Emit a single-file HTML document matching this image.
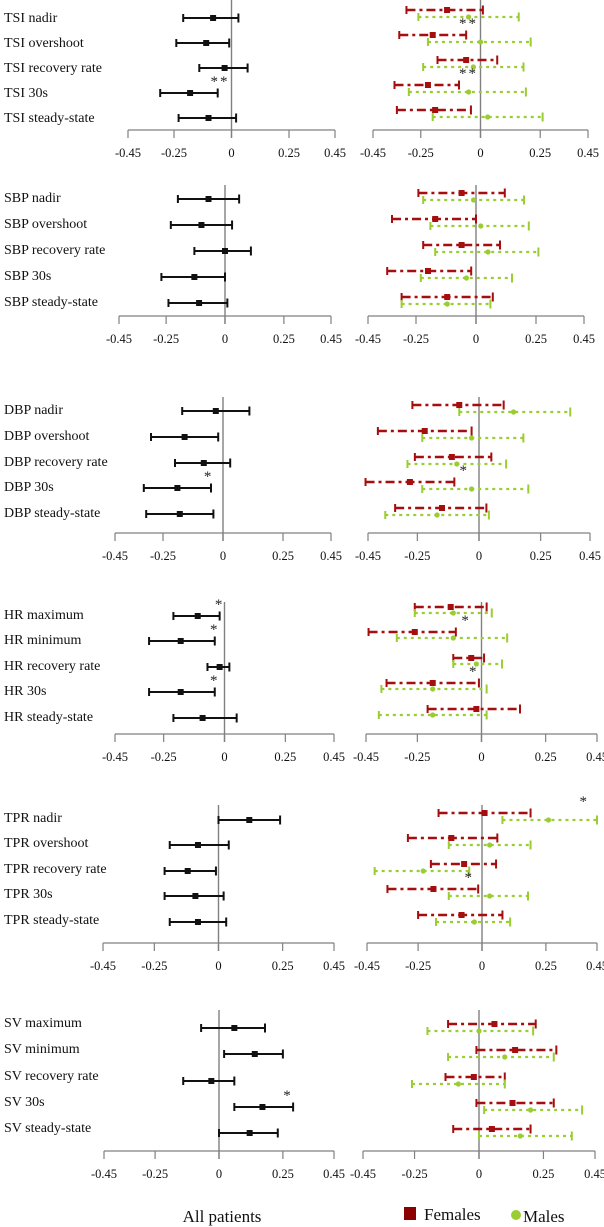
<!DOCTYPE html>
<html><head><meta charset="utf-8">
<style>
html,body{margin:0;padding:0;background:#fff;}
svg{display:block;font-family:"Liberation Serif",serif;}
</style></head>
<body>
<svg id="chart" width="604" height="1227" viewBox="0 0 604 1227" xmlns="http://www.w3.org/2000/svg"></svg>
<script>
// ---- data ----
const panelNames = ["TSI","SBP","DBP","HR","TPR","SV"];
const rowLabels = [
 ["TSI nadir","TSI overshoot","TSI recovery rate","TSI 30s","TSI steady-state"],
 ["SBP nadir","SBP overshoot","SBP recovery rate","SBP 30s","SBP steady-state"],
 ["DBP nadir","DBP overshoot","DBP recovery rate","DBP 30s","DBP steady-state"],
 ["HR maximum","HR minimum","HR recovery rate","HR 30s","HR steady-state"],
 ["TPR nadir","TPR overshoot","TPR recovery rate","TPR 30s","TPR steady-state"],
 ["SV maximum","SV minimum","SV recovery rate","SV 30s","SV steady-state"]
];
const tickValues = [-0.45,-0.25,0,0.25,0.45];
const tickLabels = ["-0.45","-0.25","0","0.25","0.45"];
// All patients: estimate, lower, upper
const allEst = [[-0.08,-0.11,-0.03,-0.18,-0.10],[-0.07,-0.10,0,-0.13,-0.11],[-0.03,-0.16,-0.08,-0.19,-0.18],[-0.11,-0.18,-0.02,-0.18,-0.09],[0.12,-0.08,-0.12,-0.09,-0.08],[0.06,0.14,-0.03,0.17,0.12]];
const allLo  = [[-0.21,-0.24,-0.14,-0.31,-0.23],[-0.20,-0.23,-0.13,-0.27,-0.24],[-0.17,-0.30,-0.20,-0.33,-0.32],[-0.21,-0.31,-0.07,-0.31,-0.21],[0.0,-0.19,-0.21,-0.21,-0.19],[-0.07,0.02,-0.14,0.06,0.0]];
const allHi  = [[0.03,-0.01,0.07,-0.06,0.02],[0.06,0.03,0.11,0,0.01],[0.11,-0.02,0.03,-0.05,-0.04],[-0.02,-0.04,0.02,-0.04,0.05],[0.24,0.04,-0.01,0.02,0.03],[0.18,0.25,0.06,0.29,0.23]];
// Females
const femEst = [[-0.14,-0.20,-0.06,-0.22,-0.19],[-0.06,-0.17,-0.06,-0.20,-0.12],[-0.08,-0.22,-0.11,-0.28,-0.15],[-0.12,-0.26,-0.04,-0.19,-0.02],[0.01,-0.12,-0.07,-0.19,-0.08],[0.06,0.14,-0.02,0.13,0.05]];
const femLo  = [[-0.31,-0.34,-0.18,-0.36,-0.35],[-0.24,-0.35,-0.22,-0.37,-0.31],[-0.27,-0.41,-0.26,-0.46,-0.34],[-0.26,-0.44,-0.11,-0.37,-0.21],[-0.17,-0.29,-0.20,-0.37,-0.25],[-0.12,-0.01,-0.13,-0.01,-0.10]];
const femHi  = [[0.01,-0.06,0.07,-0.09,-0.04],[0.12,0,0.10,-0.02,0.07],[0.10,-0.03,0.05,-0.10,0.03],[0.02,-0.10,0.01,-0.01,0.15],[0.19,0.06,0.055,-0.015,0.08],[0.22,0.30,0.10,0.29,0.20]];
// Males
const malEst = [[-0.05,0,-0.03,-0.05,0.03],[-0.01,0.02,0.05,-0.04,-0.12],[0.14,-0.03,-0.09,-0.03,-0.17],[-0.11,-0.11,-0.02,-0.19,-0.19],[0.26,0.03,-0.23,0.03,-0.03],[0,0.10,-0.08,0.20,0.16]];
const malLo  = [[-0.26,-0.22,-0.24,-0.30,-0.20],[-0.22,-0.19,-0.17,-0.23,-0.31],[-0.08,-0.23,-0.29,-0.23,-0.38],[-0.26,-0.33,-0.11,-0.39,-0.40],[0.08,-0.13,-0.42,-0.13,-0.18],[-0.20,-0.12,-0.26,0.02,0]];
const malHi  = [[0.16,0.21,0.18,0.19,0.26],[0.20,0.22,0.26,0.15,0.06],[0.37,0.18,0.11,0.20,0.04],[0.04,0.10,0.08,0.02,0.02],[0.45,0.19,-0.05,0.18,0.11],[0.21,0.29,0.10,0.40,0.36]];
// significance stars: [panel, row, side(0=left,1=right), text, value position]
const stars = [[0,3,0,"**",-0.05],[0,1,1,"**",-0.05],[0,3,1,"**",-0.05],[2,3,0,"*",-0.06],[2,3,1,"*",-0.06],
 [3,0,0,"*",-0.02],[3,1,0,"*",-0.04],[3,3,0,"*",-0.04],[3,1,1,"*",-0.06],[3,3,1,"*",-0.03],
 [4,0,1,"*",0.40],[4,3,1,"*",-0.05],[5,3,0,"*",0.27]];

// ---- layout (geometry, not data) ----
const rowsY = [[17,42,67,92,117],[197,223,249,275,301],[409,435,461,486,512],[614,639,665,690,716],[817,842,868,893,919],[1022,1048,1075,1101,1127]];
const axisY = [130,316,533,734,943,1151];
const lAx = [[128,335],[119,331],[115,331],[115,334],[103,334],[104,334]];
const rAx = [[373,588],[368,584],[368,590],[366,597],[367,597],[363,595]];
const leftOff = [1,2,2,2,3,6];
const redOff = [-7,-4,-4,-7,-4,2];
const grnOff = [0,3,3,-1,3,9];

const NS="http://www.w3.org/2000/svg";
const svg=document.getElementById("chart");
function mk(tag,attrs,parent){const e=document.createElementNS(NS,tag);for(const k in attrs)e.setAttribute(k,attrs[k]);(parent||svg).appendChild(e);return e;}
function scale(ax){const a=ax[0],b=ax[1];return v=>a+(v+0.45)/0.9*(b-a);}

function axis(g,ax,y,top,p,side){
  const sx=scale(ax);
  const line=mk("line",{x1:ax[0],x2:ax[1],y1:y,y2:y,stroke:"#808080","stroke-width":1.2},g);
  
  
  tickValues.forEach((v,i)=>{
    const t=mk("line",{x1:sx(v),x2:sx(v),y1:y,y2:y+8,stroke:"#808080","stroke-width":1.2},g);
    
    
    const tx=mk("text",{x:sx(v),y:y+27,"font-size":12.5,"text-anchor":"middle",fill:"#111"},g);
    tx.textContent=tickLabels[i];
    
    
  });
  const z=mk("line",{x1:sx(0),x2:sx(0),y1:top,y2:y+8,stroke:"#808080","stroke-width":1.4},g);
  
  
}

function bar(g,sx,lo,hi,est,y,color,dash,w,marker,name){
  const grp=mk("g",{},g);
  
  
  const l=mk("line",{x1:sx(lo),x2:sx(hi),y1:y,y2:y,stroke:color,"stroke-width":w},grp);
  if(dash)l.setAttribute("stroke-dasharray",dash);
  mk("line",{x1:sx(lo),x2:sx(lo),y1:y-4,y2:y+4,stroke:color,"stroke-width":2},grp);
  mk("line",{x1:sx(hi),x2:sx(hi),y1:y-4.5,y2:y+4.5,stroke:color,"stroke-width":2},grp);
  if(marker==="sq")mk("rect",{x:sx(est)-3,y:y-3,width:6,height:6,fill:color},grp);
  else mk("circle",{cx:sx(est),cy:y,r:2.6,fill:color},grp);
}

for(let p=0;p<6;p++){
  const g=mk("g",{});
  
  
  const top=rowsY[p][0]-(p===0?17:12);
  axis(g,lAx[p],axisY[p],top,p,'left');
  axis(g,rAx[p],axisY[p],top,p,'right');
  const sl=scale(lAx[p]), sr=scale(rAx[p]);
  for(let r=0;r<5;r++){
    const y=rowsY[p][r];
    const t=mk("text",{x:4,y:y+5,"font-size":14,fill:"#111"},g);
    t.textContent=rowLabels[p][r];
    
    
    bar(g,sl,allLo[p][r],allHi[p][r],allEst[p][r],y+leftOff[p],"#111",null,2,"sq","all-patients-estimate");
    bar(g,sr,femLo[p][r],femHi[p][r],femEst[p][r],y+redOff[p],"#a50e0e","9,4,3,4",2.6,"sq","female-estimate");
    bar(g,sr,malLo[p][r],malHi[p][r],malEst[p][r],y+grnOff[p],"#9acd32","3,4",2.2,"circ","male-estimate");
  }
}
stars.forEach(s=>{
  const [p,r,side,txt,v]=s;
  const sx=side===0?scale(lAx[p]):scale(rAx[p]);
  const y=rowsY[p][r]+(side===0?leftOff[p]:redOff[p])-7;
  const t=mk("text",{x:sx(v),y:y,"font-size":15,"text-anchor":"middle",fill:"#222","letter-spacing":"2"});
  t.textContent=txt;
  
  
});
// legend
const lg=mk("g",{});


const t1=mk("text",{x:222,y:1222,"font-size":17,"text-anchor":"middle",fill:"#111"},lg);
t1.textContent="All patients";


const r1=mk("rect",{x:404,y:1207,width:12,height:13,fill:"#8b0000"},lg);


const t2=mk("text",{x:424,y:1220,"font-size":17,fill:"#111"},lg);
t2.textContent="Females";


const c1=mk("circle",{cx:516,cy:1215,r:5,fill:"#9acd32"},lg);


const t3=mk("text",{x:523,y:1222,"font-size":17,fill:"#111"},lg);
t3.textContent="Males";


</script>
</body></html>
